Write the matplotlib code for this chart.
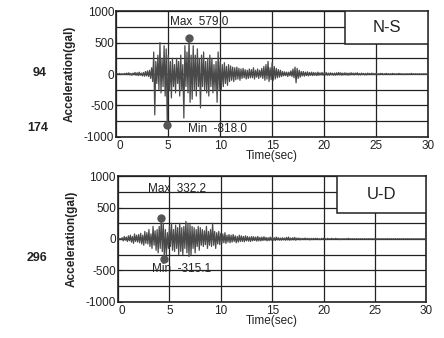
import numpy as np
import matplotlib
matplotlib.use("Agg")
import matplotlib.pyplot as plt
from matplotlib.patches import Rectangle
from matplotlib.ticker import MultipleLocator

plt.rcParams["font.family"] = ["Liberation Sans", "DejaVu Sans"]
plt.rcParams["axes.unicode_minus"] = False

# sampling step of the digitised records (sec)
dt = 0.1

# N-S acceleration (gal), one row per second
ns_acc = [
    0, 5, -5, 10, -10, 5, 0, -5, 10, -10,
    15, -10, 20, -15, 10, -20, 15, -10, 25, -20,
    20, -25, 30, -20, 15, -30, 25, -35, 40, -30,
    50, -40, 60, -70, 100, -120, 350, -650, 200, -150,
    300, -250, 500, -300, 250, -200, 450, -350, 400, -818,
    300, -250, 200, -380, 250, -200, 150, -300, 250, -150,
    200, -350, 300, -250, 150, -700, 450, -200, 350, -300,
    579, -450, 300, -400, 450, -250, 300, -350, 400, -200,
    250, -540, 300, -200, 350, -250, 200, -300, 250, -350,
    300, -200, 250, -300, 150, -250, 200, -450, 350, -250,
    200, -250, 150, -200, 180, -150, 120, -180, 150, -120,
    130, -100, 110, -120, 100, -90, 110, -80, 90, -100,
    80, -70, 90, -60, 70, -80, 60, -70, 80, -60,
    70, -60, 100, -80, 60, -50, 80, -70, 60, -50,
    90, -70, 120, -100, 150, -80, 200, -120, 100, -90,
    180, -100, 120, -80, 90, -60, 70, -50, 60, -40,
    40, -30, 35, -25, 30, -40, 30, -25, 50, -40,
    80, -60, 110, -140, 90, -70, 60, -50, 40, -30,
    40, -35, 30, -25, 35, -30, 25, -20, 30, -25,
    25, -20, 20, -25, 30, -20, 20, -15, 25, -20,
    20, -15, 25, -20, 15, -20, 20, -15, 15, -20,
    15, -20, 20, -15, 25, -15, 20, -20, 15, -15,
    20, -15, 15, -20, 15, -15, 20, -10, 15, -15,
    15, -10, 20, -15, 10, -15, 15, -10, 10, -15,
    10, -15, 15, -10, 10, -10, 15, -10, 10, -10,
    10, -10, 5, -10, 10, -5, 10, -10, 5, -5,
    10, -5, 5, -10, 5, -5, 10, -5, 5, -5,
    5, -5, 10, -5, 5, -5, 5, -10, 5, -5,
    5, -5, 5, -5, 10, -5, 5, -5, 5, -5,
    5, -5, 5, -5, 5, -5, 5, -5, 5, -5,
    0,
]

# U-D acceleration (gal), one row per second
ud_acc = [
    0, 0, 5, -5, 20, -30, 40, -20, 30, -40,
    50, -30, 60, -50, 40, -70, 80, -40, 60, -50,
    70, -60, 90, -80, 60, -100, 120, -70, 100, -80,
    150, -120, 80, -150, 200, -100, 130, -180, 150, -220,
    200, -150, 332, -200, 250, -315, 150, -250, 100, -150,
    200, -120, 250, -180, 150, -200, 220, -150, 180, -250,
    250, -200, 180, -250, 200, -150, 280, -220, 250, -280,
    230, -250, 200, -150, 180, -220, 150, -120, 200, -180,
    180, -100, 150, -120, 130, -90, 200, -150, 120, -100,
    150, -120, 250, -100, 120, -150, 100, -80, 120, -90,
    90, -70, 80, -60, 100, -70, 60, -50, 70, -60,
    60, -50, 70, -40, 50, -60, 40, -50, 60, -40,
    50, -40, 40, -45, 50, -30, 40, -35, 30, -40,
    40, -30, 35, -25, 30, -35, 40, -30, 25, -30,
    30, -25, 35, -20, 25, -30, 20, -25, 30, -20,
    25, -20, 20, -25, 30, -15, 20, -20, 15, -20,
    20, -15, 15, -20, 25, -15, 30, -20, 15, -15,
    20, -15, 25, -20, 15, -10, 15, -15, 10, -10,
    10, -10, 15, -10, 10, -10, 10, -15, 10, -10,
    10, -10, 10, -5, 10, -10, 5, -10, 10, -5,
    10, -5, 5, -10, 10, -5, 5, -5, 10, -5,
    5, -5, 10, -5, 5, -5, 5, -10, 5, -5,
    5, -5, 5, -5, 10, -5, 5, -5, 5, -5,
    5, -5, 5, -5, 5, -5, 5, -5, 5, -5,
    5, -5, 5, -5, 5, -5, 5, -5, 5, -5,
    5, -5, 5, -5, 5, -5, 5, -5, 5, -5,
    5, -5, 5, -5, 5, -5, 5, -5, 5, -5,
    5, -5, 5, -5, 5, -5, 5, -5, 5, -5,
    5, -5, 5, -5, 5, -5, 5, -5, 5, -5,
    5, -5, 5, -5, 5, -5, 5, -5, 5, -5,
    0,
]

components = ["N-S", "U-D"]
peak_max = [579.0, 332.2]
peak_min = [-818.0, -315.1]
side_numbers = [["94", "174"], ["296"]]
xticks = [0, 5, 10, 15, 20, 25, 30]
yticks = [-1000, -500, 0, 500, 1000]

ink = "#222222"
trace = "#4a4a4a"

fig = plt.figure(figsize=(4.44, 3.38), dpi=100)
fig.patch.set_facecolor("white")

boxes = [[0.262, 0.595, 0.702, 0.372], [0.266, 0.107, 0.694, 0.372]]
series = [ns_acc, ud_acc]
# where the annotation texts sit (time, gal)
max_text_pos = [(5.2, 820), (2.9, 800)]
min_text_pos = [(6.9, -880), (3.3, -470)]
# lower-left corner of the component label box (time, gal)
label_corner = [(22.0, 470), (21.3, 420)]

for k, name in enumerate(components):
    ax = fig.add_axes(boxes[k])
    acc = np.array(series[k], dtype=float)
    t = np.arange(len(acc)) * dt

    ax.plot(t, acc, color=trace, lw=0.9, zorder=3)

    # max / min markers
    i_max = int(np.argmax(acc))
    i_min = int(np.argmin(acc))
    ax.plot(t[i_max], acc[i_max], "o", ms=5, color="#555555", zorder=4)
    ax.plot(t[i_min], acc[i_min], "o", ms=5, color="#555555", zorder=4)

    ax.text(*max_text_pos[k], f"Max  {peak_max[k]:.1f}", fontsize=8.5,
            color=ink, va="center", ha="left", zorder=5)
    ax.text(*min_text_pos[k], f"Min  {peak_min[k]:.1f}", fontsize=8.5,
            color=ink, va="center", ha="left", zorder=5)

    # component label box, attached to the top-right corner
    x0, y0 = label_corner[k]
    ax.add_patch(Rectangle((x0, y0), 30 - x0, 1000 - y0, fc="white",
                           ec=ink, lw=1.1, zorder=6))
    ax.text((x0 + 30) / 2, (y0 + 1000) / 2, name, fontsize=12, color=ink,
            ha="center", va="center", zorder=7)

    ax.set_xlim(0, 30)
    ax.set_ylim(-1000, 1000)
    ax.set_xticks(xticks)
    ax.set_yticks(yticks)
    ax.yaxis.set_minor_locator(MultipleLocator(250))
    ax.grid(True, which="both", axis="y", color=ink, lw=0.9)
    ax.grid(True, which="major", axis="x", color=ink, lw=0.9)
    ax.set_axisbelow(True)
    ax.tick_params(axis="both", which="both", direction="in", colors=ink,
                   labelsize=8.5, pad=1.5, length=3)
    ax.tick_params(axis="x", length=0, pad=2)
    for lbl in ax.get_xticklabels():
        if lbl.get_text() == "0":
            lbl.set_horizontalalignment("left")
    for s in ax.spines.values():
        s.set_color(ink)
        s.set_linewidth(1.2)

    ax.set_xlabel("Time(sec)", fontsize=8.5, color=ink, labelpad=-1)
    ax.set_ylabel("Acceleration(gal)", fontsize=8.5, color=ink,
                  fontweight="bold", labelpad=6)

# page numbers in the margin of the scanned figure
fig.text(0.09, 0.785, side_numbers[0][0], fontsize=9, fontweight="bold",
         color=ink, ha="center", va="center")
fig.text(0.085, 0.62, side_numbers[0][1], fontsize=9, fontweight="bold",
         color=ink, ha="center", va="center")
fig.text(0.083, 0.237, side_numbers[1][0], fontsize=9, fontweight="bold",
         color=ink, ha="center", va="center")

fig.savefig("out.png", dpi=100, facecolor="white")
